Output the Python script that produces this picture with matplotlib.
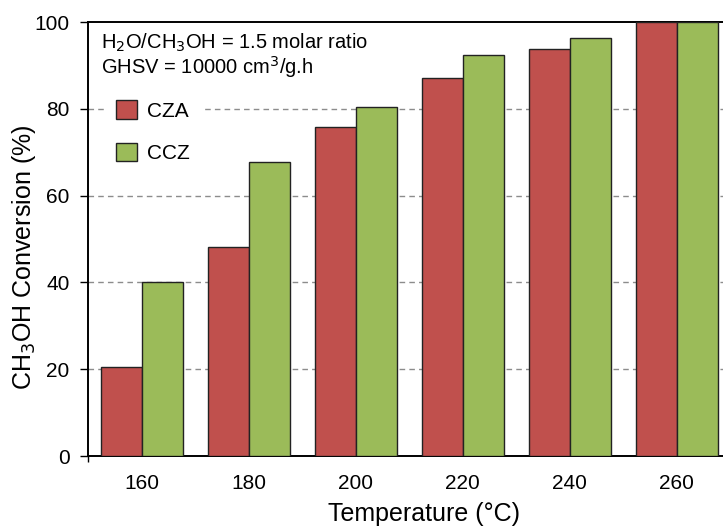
import matplotlib
matplotlib.use("Agg")
import matplotlib.pyplot as plt
import numpy as np

plt.rcParams['font.family'] = ['Liberation Sans', 'DejaVu Sans']

temps = ['160', '180', '200', '220', '240', '260']
cza = [20.5, 48.2, 75.9, 87.2, 93.8, 100.0]
ccz = [40.0, 67.7, 80.4, 92.4, 96.3, 100.0]

red = '#C0504D'
green = '#9BBB59'

W, H = 723, 527
fig = plt.figure(figsize=(W / 100, H / 100), dpi=100)
# plot area runs off the right edge of the picture, as in the reference
x0, x1, ytop, ybot = 88.3, 730.2, 22, 456
ax = fig.add_axes([x0 / W, 1 - ybot / H, (x1 - x0) / W, (ybot - ytop) / H])

x = np.arange(len(temps))
bw = 0.383
ax.bar(x - bw / 2, cza, bw, color=red, edgecolor='#222222', linewidth=1, label='CZA', zorder=3)
ax.bar(x + bw / 2, ccz, bw, color=green, edgecolor='#222222', linewidth=1, label='CCZ', zorder=3)

ax.set_xlim(-0.5, len(temps) - 0.5)
ax.set_ylim(0, 100)
ax.set_yticks([0, 20, 40, 60, 80, 100])
ax.set_xticks(x)
ax.set_xticklabels(temps)
ax.set_xticks([-0.5], minor=True)

for yv in [20, 40, 60, 80]:
    ax.axhline(yv, color='#8c8c8c', linestyle=(0, (4, 3)), linewidth=1, zorder=1)

ax.tick_params(axis='y', direction='out', length=5.5, width=1, pad=8, labelsize=15)
ax.tick_params(axis='x', which='major', length=0, pad=13, labelsize=15)
ax.tick_params(axis='x', which='minor', direction='out', length=4.5, width=1)

for side in ['left', 'bottom', 'top']:
    ax.spines[side].set_linewidth(1.4)
    ax.spines[side].set_color('black')
ax.spines['right'].set_visible(False)

ax.set_xlabel('Temperature (°C)', fontsize=18)
ax.xaxis.set_label_coords((424 - x0) / (x1 - x0), -(514 - ybot) / (ybot - ytop))
ax.xaxis.label.set_va('center')
ax.set_ylabel('CH$_3$OH Conversion (%)', fontsize=18)
ax.yaxis.set_label_coords(-(x0 - 24) / (x1 - x0), (ybot - 257) / (ybot - ytop))
ax.yaxis.label.set_va('center')

fig.text(101 / W, 1 - 49 / H, 'H$_2$O/CH$_3$OH = 1.5 molar ratio', fontsize=14.5,
         va='baseline', ha='left')
fig.text(101 / W, 1 - 74 / H, 'GHSV = 10000 cm$^3$/g.h', fontsize=14.5,
         va='baseline', ha='left')

leg = ax.legend(loc='upper left', bbox_to_anchor=(106 / W, 1 - 90 / H),
                bbox_transform=fig.transFigure, fontsize=15, frameon=True,
                fancybox=False, edgecolor='white', facecolor='white', framealpha=1,
                handlelength=1.0, handleheight=1.0, handletextpad=0.45,
                labelspacing=1.05, borderpad=0.5, borderaxespad=0)
leg.set_zorder(2)

fig.savefig('out.png', dpi=100)
